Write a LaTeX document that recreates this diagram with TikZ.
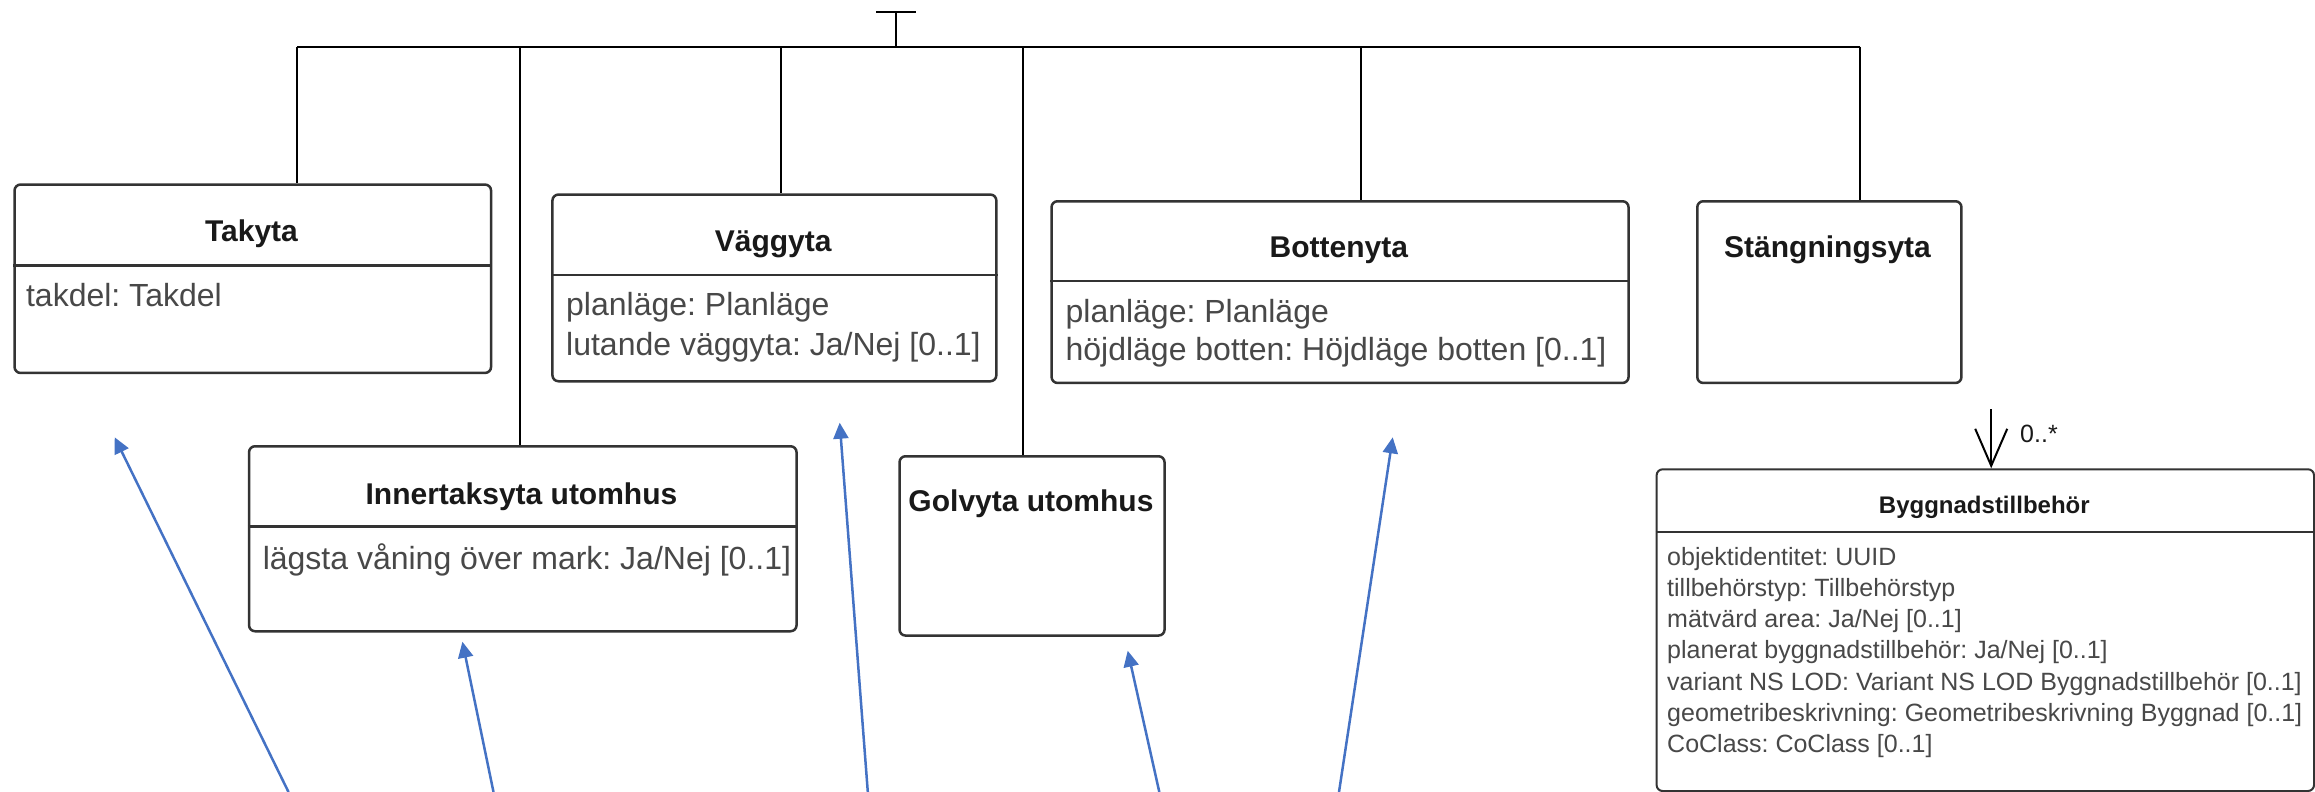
\documentclass[tikz,border=0pt]{standalone}
\usepackage{fontspec}
\setmainfont{Liberation Sans}
\usetikzlibrary{arrows.meta}
\frenchspacing
\definecolor{annblue}{HTML}{4472C4}
\definecolor{attrgray}{HTML}{484848}
\definecolor{boxline}{HTML}{333333}
\tikzset{
 umlbox/.style={draw=boxline, line width=2.5pt, rounded corners=6pt, fill=white, inner sep=0pt, anchor=north west},
 sepline/.style={draw=boxline, line width=2.5pt},
 titletxt/.style={font=\frenchspacing\bfseries\fontsize{30}{36}\selectfont, text=black!90, inner sep=0pt, anchor=base},
 attrtxt/.style={font=\frenchspacing\fontsize{32}{38}\selectfont, text=attrgray, inner sep=0pt, anchor=base west},
 smalltitle/.style={font=\frenchspacing\bfseries\fontsize{24}{29}\selectfont, text=black!90, inner sep=0pt, anchor=base},
 smallattr/.style={font=\frenchspacing\fontsize{25}{30}\selectfont, text=attrgray, inner sep=0pt, anchor=base west},
 gen/.style={draw=black, line width=2pt},
 ann/.style={draw=annblue, line width=2.5pt, -{Triangle[length=16pt,width=15pt]}},
 assoc/.style={draw=black, line width=2pt, -{Straight Barb[length=37pt,width=32pt]}},
}
\begin{document}
\begin{tikzpicture}[x=1pt,y=-1pt]
\useasboundingbox (0,0) rectangle (2315,792);

% boxes
\node[umlbox, minimum width=476.5pt, minimum height=188.4pt] (tak) at (13.3,183.3) {};
\node[umlbox, minimum width=443.9pt, minimum height=186.7pt] (vagg) at (551.2,193.3) {};
\node[umlbox, minimum width=577pt, minimum height=181.7pt] (botten) at (1050.3,200) {};
\node[umlbox, minimum width=264.2pt, minimum height=181.7pt] (stang) at (1696,200) {};
\node[umlbox, minimum width=547.5pt, minimum height=185pt] (inner) at (247.8,445) {};
\node[umlbox, minimum width=265pt, minimum height=179.3pt] (golv) at (898.3,455) {};
\node[umlbox, line width=2pt, minimum width=657.4pt, minimum height=321.7pt] (byg) at (1655.6,468.3) {};

% separators
\draw[sepline] (tak.west |- 0,265.7) -- (tak.east |- 0,265.7);
\draw[sepline] (vagg.west |- 0,275) -- (vagg.east |- 0,275);
\draw[sepline] (botten.west |- 0,281) -- (botten.east |- 0,281);
\draw[sepline] (inner.west |- 0,526.7) -- (inner.east |- 0,526.7);
\draw[sepline, line width=2pt] (byg.west |- 0,531.7) -- (byg.east |- 0,531.7);

% titles
\node[titletxt] (takT) at (251.5,241) {Takyta};
\node[titletxt] (vaggT) at (773.2,251) {Väggyta};
\node[titletxt] (bottenT) at (1338.8,257.7) {Bottenyta};
\node[titletxt] (stangT) at (1827.5,257.7) {Stängningsyta};
\node[titletxt] (innerT) at (521.5,504.3) {Innertaksyta utomhus};
\node[titletxt] (golvT) at (1031,511) {Golvyta utomhus};
\node[smalltitle] (bygT) at (1984.3,513) {Byggnadstillbehör};

% attributes
\node[attrtxt] (takA1) at (25.9,306.7) {takdel: Takdel};
\node[attrtxt] (vaggA1) at (566,315.7) {planläge: Planläge};
\node[attrtxt] (vaggA2) at (566,355.7) {lutande väggyta: Ja/Nej [0..1]};
\node[attrtxt] (bottenA1) at (1065.4,322.3) {planläge: Planläge};
\node[attrtxt] (bottenA2) at (1065.4,360.7) {höjdläge botten: Höjdläge botten [0..1]};
\node[attrtxt] (innerA1) at (262.6,569) {lägsta våning över mark: Ja/Nej [0..1]};

\node[smallattr] (bygA1) at (1667,565) {objektidentitet: UUID};
\node[smallattr] (bygA2) at (1667,596.3) {tillbehörstyp: Tillbehörstyp};
\node[smallattr] (bygA3) at (1667,627.6) {mätvärd area: Ja/Nej [0..1]};
\node[smallattr] (bygA4) at (1667,658.9) {planerat byggnadstillbehör: Ja/Nej [0..1]};
\node[smallattr] (bygA5) at (1667,690.2) {variant NS LOD: Variant NS LOD Byggnadstillbehör [0..1]};
\node[smallattr] (bygA6) at (1667,721.5) {geometribeskrivning: Geometribeskrivning Byggnad [0..1]};
\node[smallattr] (bygA7) at (1667,752.8) {CoClass: CoClass [0..1]};

% generalization tree
\coordinate (barL) at (876,12);
\coordinate (barR) at (916,12);
\coordinate (gtop) at (895.5,12);
\coordinate (gbus) at (895.5,46.7);
\coordinate (b1) at (297.4,46.7);
\coordinate (b2) at (520.1,46.7);
\coordinate (b3) at (780.5,46.7);
\coordinate (b4) at (1022.6,46.7);
\coordinate (b5) at (1360.6,46.7);
\coordinate (b6) at (1859.6,46.7);
\draw[gen, line width=1.6pt] (barL) -- (barR);
\draw[gen] (gtop) -- (gbus);
\draw[gen] (b1) -- (b6);
\draw[gen] (b1) -- (b1 |- tak.north);
\draw[gen] (b2) -- (b2 |- inner.north);
\draw[gen] (b3) -- (b3 |- vagg.north);
\draw[gen] (b4) -- (b4 |- golv.north);
\draw[gen] (b5) -- (b5 |- botten.north);
\draw[gen] (b6) -- (b6 |- stang.north);

% association
\coordinate (asrc) at (1991.2,409.3);
\draw[assoc] (asrc) -- (asrc |- byg.north);
\node[font=\fontsize{25}{30}\selectfont, text=black!90, inner sep=0pt, anchor=base west] (mult) at (2020,442.3) {0..*};

% annotation arrows
\coordinate (a1s) at (288.5,792);  \coordinate (a1e) at (114.7,437.3);
\coordinate (a2s) at (493.5,792);  \coordinate (a2e) at (462.4,641.7);
\coordinate (a3s) at (867.8,792);  \coordinate (a3e) at (839.7,422.7);
\coordinate (a4s) at (1159.3,792); \coordinate (a4e) at (1127.7,650.7);
\coordinate (a5s) at (1339,792);   \coordinate (a5e) at (1392.7,437.3);
\draw[ann] (a1s) -- (a1e);
\draw[ann] (a2s) -- (a2e);
\draw[ann] (a3s) -- (a3e);
\draw[ann] (a4s) -- (a4e);
\draw[ann] (a5s) -- (a5e);
\end{tikzpicture}
\end{document}
